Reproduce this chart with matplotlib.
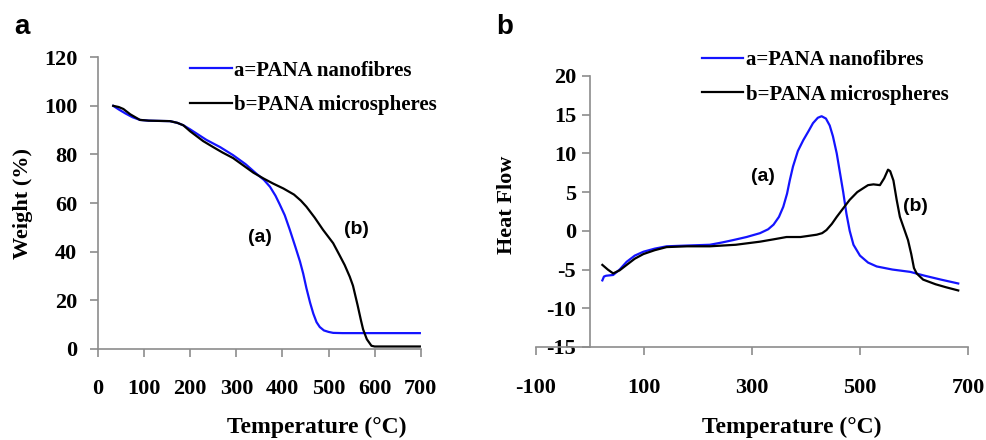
import matplotlib.pyplot as plt

plt.rcParams["axes.unicode_minus"] = False

# TGA (panel a)
tga_t_fib = [33, 45, 60, 75, 91, 110, 130, 156, 172, 185, 200, 235, 265, 293, 320, 344, 360, 373, 385,
             394, 405, 416, 428, 438, 445, 452, 460, 467, 474, 481, 490, 500, 510, 530, 698]
tga_w_fib = [100, 98.5, 96.8, 95.3, 94.2, 93.9, 93.8, 93.7, 93, 92, 90.3, 86, 83, 79.7, 76, 72, 69.5,
             66.7, 63, 59.5, 55, 49, 42, 36, 31, 25, 19, 14.5, 11, 9, 7.6, 7, 6.6, 6.5, 6.5]
tga_t_mic = [33, 45, 55, 70, 91, 110, 156, 172, 185, 200, 228, 250, 270, 293, 315, 337, 360, 380, 402,
             425, 440, 452, 470, 488, 500, 510, 524, 535, 546, 553, 563, 570, 575, 583, 593, 600, 698]
tga_w_mic = [100, 99.5, 98.7, 96.5, 94.2, 93.9, 93.7, 93, 92, 89.5, 85.5, 83, 80.8, 78.5, 75.5, 72.5,
             70, 68, 66, 63.5, 61, 58.5, 54, 49, 46, 43.5, 38.5, 34.5, 29.7, 26, 18, 12, 8, 4, 1.3, 1, 1]

# DSC (panel b)
dsc_t_fib = [23, 26, 30, 43, 55, 68, 83, 99, 120, 142, 180, 222, 245, 265, 290, 315, 330, 340, 350, 358,
             365, 370, 376, 385, 395, 405, 413, 422, 429, 437, 444, 450, 457, 463, 469, 475, 481, 488,
             500, 515, 531, 560, 593, 620, 650, 682]
dsc_h_fib = [-6.4, -5.9, -5.8, -5.7, -5.0, -4.0, -3.2, -2.7, -2.3, -2.0, -1.9, -1.8, -1.5, -1.2, -0.8,
             -0.3, 0.2, 0.8, 1.8, 3.1, 4.8, 6.5, 8.3, 10.3, 11.7, 12.9, 13.9, 14.6, 14.8, 14.5, 13.6,
             12.2, 10.0, 7.5, 5.0, 2.2, 0.0, -1.8, -3.2, -4.1, -4.6, -5.0, -5.3, -5.8, -6.3, -6.8]
dsc_t_mic = [23, 33, 43, 55, 68, 83, 99, 120, 142, 180, 222, 270, 315, 340, 364, 390, 420, 430, 438,
             448, 457, 470, 481, 495, 506, 515, 525, 537, 545, 552, 556, 562, 568, 574, 580, 589, 595,
             600, 605, 617, 640, 660, 682]
dsc_h_mic = [-4.4, -5.0, -5.5, -5.1, -4.4, -3.6, -3.0, -2.5, -2.1, -2.0, -2.0, -1.8, -1.4, -1.1, -0.8,
             -0.8, -0.5, -0.3, 0.1, 0.9, 1.8, 3.0, 4.0, 5.0, 5.5, 5.9, 6.0, 5.9, 6.8, 7.9, 7.7, 6.5, 4.0,
             1.8, 0.6, -1.2, -3.0, -4.8, -5.5, -6.3, -6.9, -7.3, -7.7]

lab_fib = "a=PANA nanofibres"
lab_mic = "b=PANA microspheres"

serif = "Liberation Serif"
sans = "Liberation Sans"
blue = "#1414ff"
axis_col = "#8c8c8c"

fig = plt.figure(figsize=(9.87, 4.4), dpi=100)


def style_axes(ax):
    for s in ["top", "right"]:
        ax.spines[s].set_visible(False)
    for s in ["left", "bottom"]:
        ax.spines[s].set_color(axis_col)
        ax.spines[s].set_linewidth(1.2)
    ax.tick_params(direction="out", length=6, width=1.2, color=axis_col)
    ax.tick_params(axis="x", pad=16)
    for lbl in ax.get_xticklabels() + ax.get_yticklabels():
        lbl.set_fontfamily(serif)
        lbl.set_fontweight("bold")
        lbl.set_fontsize(16)


leg_kw = dict(loc="upper left", bbox_transform=fig.transFigure, frameon=False, handlelength=2.0,
              handletextpad=0.1, labelspacing=0.7, borderpad=0, borderaxespad=0,
              prop={"family": serif, "weight": "bold", "size": 15})

# panel a
ax1 = fig.add_axes([0.0993, 0.207, 0.327, 0.663])
ax1.plot(tga_t_fib, tga_w_fib, color=blue, lw=1.6, label=lab_fib)
ax1.plot(tga_t_mic, tga_w_mic, color="black", lw=1.6, label=lab_mic)
ax1.set_xlim(0, 700)
ax1.set_ylim(0, 120)
ax1.set_xticks(range(0, 701, 100))
ax1.set_yticks(range(0, 121, 20))
style_axes(ax1)
ax1.tick_params(axis="y", pad=9)
ax1.text(351, 46, "(a)", fontfamily=sans, fontweight="bold", fontsize=14, ha="center", va="center")
ax1.text(561, 49, "(b)", fontfamily=sans, fontweight="bold", fontsize=14, ha="center", va="center")
ax1.legend(bbox_to_anchor=(0.1925, 0.862), **leg_kw)

# panel b
ax2 = fig.add_axes([0.543, 0.2114, 0.4377, 0.616])
ax2.plot(dsc_t_fib, dsc_h_fib, color=blue, lw=1.6, label=lab_fib)
ax2.plot(dsc_t_mic, dsc_h_mic, color="black", lw=1.6, label=lab_mic)
ax2.set_xlim(-100, 700)
ax2.set_ylim(-15, 20)
ax2.set_xticks(range(-100, 701, 200))
ax2.set_yticks(range(-15, 21, 5))
ax2.spines["left"].set_position(("data", 0))
style_axes(ax2)
ax2.tick_params(axis="y", pad=4)
ax2.text(321, 7.0, "(a)", fontfamily=sans, fontweight="bold", fontsize=14, ha="center", va="center")
ax2.text(602, 3.1, "(b)", fontfamily=sans, fontweight="bold", fontsize=14, ha="center", va="center")
ax2.legend(bbox_to_anchor=(0.711, 0.886), **leg_kw)

# axis labels and panel letters
lab_kw = dict(fontfamily=serif, fontweight="bold", ha="center", va="center")
fig.text(23 / 987, 1 - 203 / 440, "Weight (%)", rotation=90, fontsize=16, **lab_kw)
fig.text(507 / 987, 1 - 205 / 440, "Heat Flow", rotation=90, fontsize=16, **lab_kw)
fig.text(317 / 987, 1 - 427 / 440, "Temperature (°C)", fontsize=17, **lab_kw)
fig.text(792 / 987, 1 - 427 / 440, "Temperature (°C)", fontsize=17, **lab_kw)
fig.text(22 / 987, 1 - 27 / 440, "a", fontfamily=sans, fontweight="bold", fontsize=20,
         ha="center", va="center")
fig.text(505 / 987, 1 - 27 / 440, "b", fontfamily=sans, fontweight="bold", fontsize=20,
         ha="center", va="center")

fig.savefig("out.png", dpi=100)
